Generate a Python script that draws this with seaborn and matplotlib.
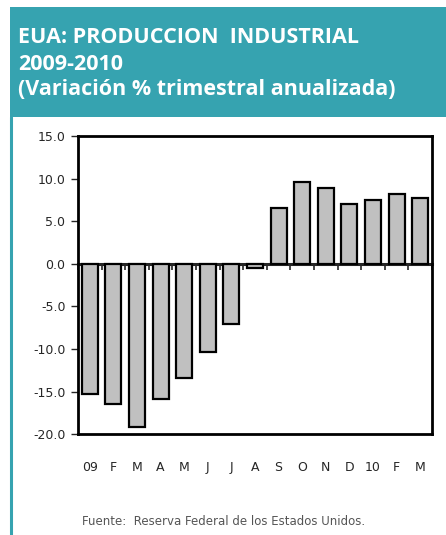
import pandas as pd
import seaborn as sns
import matplotlib.pyplot as plt
from matplotlib.patches import Rectangle
from matplotlib.lines import Line2D
import numpy as np

# monthly data, Jan 2009 - Mar 2010
months = ['09', 'F', 'M', 'A', 'M', 'J', 'J', 'A', 'S', 'O', 'N', 'D', '10', 'F', 'M']
values = [-15.3, -16.4, -19.1, -15.8, -13.4, -10.3, -7.0, -0.5, 6.6, 9.6, 8.9, 7.0, 7.5, 8.2, 7.7]
y_ticks = [-20, -15, -10, -5, 0, 5, 10, 15]

title_lines = ['EUA: PRODUCCION  INDUSTRIAL', '2009-2010', '(Variación % trimestral anualizada)']
source = 'Fuente:  Reserva Federal de los Estados Unidos.'

teal = '#36A3B0'

sns.set_style('white')
plt.rcParams['font.family'] = ['DejaVu Sans']
plt.rcParams['axes.unicode_minus'] = False

df = pd.DataFrame({'idx': np.arange(len(values)), 'value': values})

fig = plt.figure(figsize=(4.46, 5.35), dpi=100)
fig.patch.set_facecolor('white')

# header box + left border
fig.patches.append(Rectangle((10 / 446, 1 - 117 / 535), 1, 110 / 535, transform=fig.transFigure,
                             facecolor=teal, edgecolor='none', zorder=0))
fig.lines.append(Line2D([11 / 446, 11 / 446], [0, 1 - 117 / 535], transform=fig.transFigure,
                        color=teal, linewidth=2.2))

baselines = [43, 70, 95]
for line, yb in zip(title_lines, baselines):
    fig.text(18 / 446, 1 - yb / 535, line, color='white', fontsize=15.5, fontweight='bold',
             family='Open Sans', va='baseline', ha='left')

ax = fig.add_axes([78 / 446, 1 - 434.3 / 535, 354 / 446, 298.3 / 535])

sns.barplot(data=df, x='idx', y='value', color='#C0C0C0', saturation=1,
            edgecolor='black', linewidth=1.6, width=0.68, ax=ax)

ax.set_ylim(-20, 15)
ax.set_xlim(-0.5, len(values) - 0.5)
ax.set_yticks(y_ticks)
ax.set_yticklabels([f'{v:.1f}' for v in y_ticks])
ax.set_xticks(range(len(months)))
ax.set_xticklabels(months)
ax.set_xlabel('')
ax.set_ylabel('')
ax.tick_params(axis='x', length=0, pad=19, labelsize=9)
ax.tick_params(axis='y', direction='out', length=5, width=1, left=True, labelsize=9, pad=4)

for s in ax.spines.values():
    s.set_linewidth(2)
    s.set_color('black')

# zero line with small ticks between the bars
zero = ax.secondary_xaxis(20 / 35)
zero.set_xticks(np.arange(-0.5, len(values), 1.0))
zero.set_xticklabels([])
zero.xaxis.set_ticks_position('bottom')
zero.tick_params(direction='out', length=4, width=1.2)
for s in zero.spines.values():
    s.set_linewidth(2.2)

fig.text(82 / 446, 1 - 525 / 535, source, color='#555555', fontsize=8.5, va='baseline', ha='left')

fig.savefig('out.png', dpi=100)
